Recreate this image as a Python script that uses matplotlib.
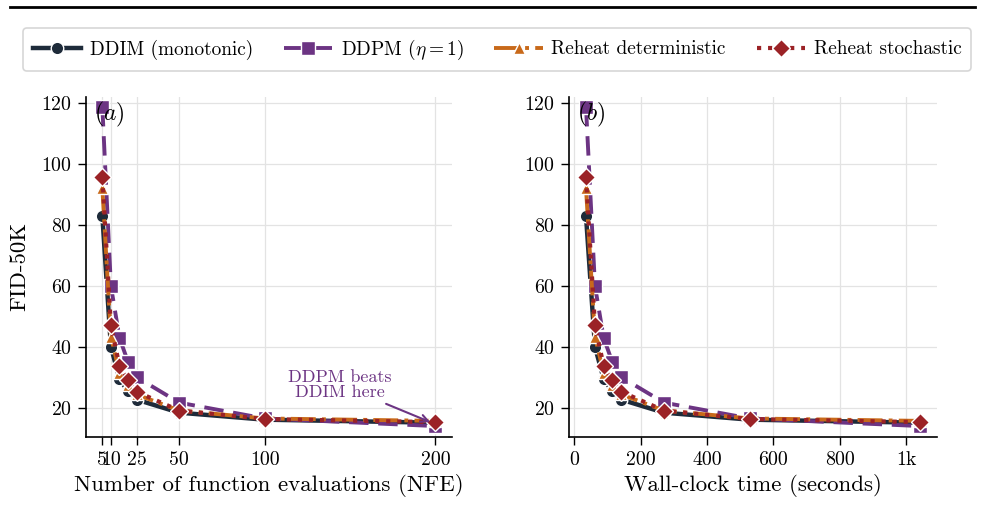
import matplotlib
matplotlib.use("Agg")
import matplotlib.pyplot as plt
from matplotlib.lines import Line2D

plt.rcParams['font.family'] = ['cmr10', 'DejaVu Serif']
plt.rcParams['mathtext.fontset'] = 'cm'
plt.rcParams['axes.unicode_minus'] = False
plt.rcParams['axes.formatter.use_mathtext'] = True

# ---- data ----
nfe = [5, 10, 15, 20, 25, 50, 100, 200]
wall_time = [35, 62, 88, 114, 141, 270, 529, 1042]
fid_ddim = [83.0, 40.0, 29.5, 25.3, 22.6, 18.3, 16.0, 15.0]
fid_ddpm = [118.8, 60.0, 43.0, 35.0, 30.0, 21.6, 16.4, 13.9]
fid_reheat_det = [92.1, 43.3, 31.5, 27.5, 24.3, 19.0, 16.4, 15.6]
fid_reheat_sto = [95.7, 47.0, 33.8, 28.9, 25.2, 19.0, 16.2, 15.2]

series_labels = ["DDIM (monotonic)", r"DDPM ($\eta=1$)", "Reheat deterministic", "Reheat stochastic"]
nfe_ticks = [5, 10, 25, 50, 100, 200]
nfe_ticklabels = ["5", "10", "25", "50", "100", "200"]
time_ticks = [0, 200, 400, 600, 800, 1000]
time_ticklabels = ["0", "200", "400", "600", "800", "1k"]
y_ticks = [20, 40, 60, 80, 100, 120]

colors = ["#1e2b3a", "#6c3483", "#c8691a", "#9b2226"]
styles = [
    dict(ls='-', marker='o', ms=9, lw=3.2),
    dict(ls=(0, (5, 2.5)), marker='s', ms=9.5, lw=2.8),
    dict(ls='-.', marker='^', ms=8.5, lw=2.8),
    dict(ls=':', marker='D', ms=9.5, lw=3.0),
]
all_fid = [fid_ddim, fid_ddpm, fid_reheat_det, fid_reheat_sto]

W, H = 985, 505
fig = plt.figure(figsize=(W / 100, H / 100), dpi=100)
ax1 = fig.add_axes([85.7 / W, 1 - 437 / H, (452 - 85.7) / W, (437 - 96.7) / H])
ax2 = fig.add_axes([569.3 / W, 1 - 437 / H, (936.7 - 569.3) / W, (437 - 96.7) / H])

handles = []
for ax, xs in ((ax1, nfe), (ax2, wall_time)):
    for fid, c, st, lab in zip(all_fid, colors, styles, series_labels):
        h, = ax.plot(xs, fid, color=c, label=lab, markeredgecolor='white',
                     markeredgewidth=1.0, zorder=3, **st)
        if ax is ax1:
            handles.append(h)
    ax.set_ylim(10.3, 122.2)
    ax.set_yticks(y_ticks)
    ax.grid(True, color='#e3e3e3', lw=0.9, zorder=0)
    ax.set_axisbelow(True)
    for s in ('top', 'right'):
        ax.spines[s].set_visible(False)
    for s in ('left', 'bottom'):
        ax.spines[s].set_linewidth(1.2)
        ax.spines[s].set_color('black')
    ax.tick_params(axis='both', labelsize=14.3, length=6, width=1.0, direction='out', pad=4)

ax1.set_xticks(nfe_ticks)
ax1.set_xticklabels(nfe_ticklabels)
ax2.set_xticks(time_ticks)
ax2.set_xticklabels(time_ticklabels)

ax1.set_xlabel("Number of function evaluations (NFE)", fontsize=16.5, labelpad=4)
ax2.set_xlabel("Wall-clock time (seconds)", fontsize=16.5, labelpad=4)
ax1.set_ylabel("FID-50K", fontsize=16.5, labelpad=8)

ax1.text(0.022, 0.99, r"$(a)$", transform=ax1.transAxes, ha='left', va='top', fontsize=17)
ax2.text(0.022, 0.99, r"$(b)$", transform=ax2.transAxes, ha='left', va='top', fontsize=17)

ax1.annotate("DDPM beats\nDDIM here", xy=(nfe[-1], fid_ddpm[-1] + 0.6), xytext=(144, 27.5),
             ha='center', va='center', color=colors[1], fontsize=13, linespacing=1.0,
             arrowprops=dict(arrowstyle='->', color=colors[1], lw=1.5, shrinkA=2, shrinkB=4),
             zorder=5)

leg = fig.legend(handles=handles, loc='center', bbox_to_anchor=(497 / W, 1 - 49.5 / H),
                 ncol=4, fontsize=13.9, frameon=True, handlelength=2.5, columnspacing=1.6,
                 handletextpad=0.45, borderpad=0.5, fancybox=True)
leg.get_frame().set_edgecolor('#cccccc')
leg.get_frame().set_linewidth(1.2)

fig.add_artist(Line2D([10 / W, 975 / W], [1 - 7 / H, 1 - 7 / H], color='black', lw=2,
                      transform=fig.transFigure))

fig.savefig("out.png", dpi=100)
